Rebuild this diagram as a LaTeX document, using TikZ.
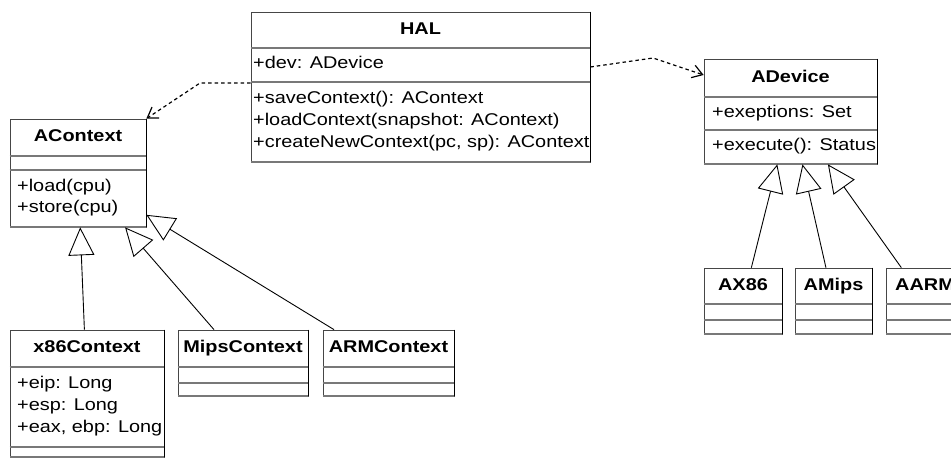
\documentclass[tikz,border=0pt]{standalone}
\usepackage{fontspec}
\setmainfont[FakeStretch=1.17]{Liberation Sans}
\usetikzlibrary{arrows.meta}
\definecolor{boxline}{RGB}{70,70,70}
\definecolor{sepgray}{RGB}{120,120,120}
\newcommand{\umlfont}{\fontsize{17}{20}\selectfont}
\tikzset{
  classbox/.style={rectangle, draw=boxline, fill=white, line width=0.7pt, inner sep=0pt},
  classname/.style={font=\umlfont\bfseries, inner sep=0pt, text height=12pt, text depth=3pt},
  member/.style={anchor=west, inner sep=0pt, text height=12pt, text depth=3pt},
  sepline/.style={draw=sepgray, line width=1.8pt},
  inherit/.style={-{Triangle[open, length=28pt, width=26pt]}, line width=0.9pt, color=black},
  depend/.style={-{Straight Barb[length=10pt, width=13pt]}, dash pattern=on 3.5pt off 3pt, line width=1.2pt, color=black}
}

\begin{document}
\begin{tikzpicture}[x=1pt, y=-1pt, font=\umlfont]
  \fill[white] (0,0) rectangle (951,459);
  \useasboundingbox (0,0) rectangle (951,459);

  % HAL
  \node[classbox, minimum width=339pt, minimum height=150pt] (hal) at (420.5,87) {};
  \node[classname] (hal-name) at (hal.north |- 0,30) {HAL};
  \node[member] (hal-dev) at (253,64) {+dev: ADevice};
  \node[member] (hal-save) at (253,99) {+saveContext(): AContext};
  \node[member] (hal-load) at (253,121) {+loadContext(snapshot: AContext)};
  \node[member] (hal-new) at (253,143) {+createNewContext(pc, sp): AContext};

  % contexts
  \node[classbox, minimum width=136pt, minimum height=108pt] (actx) at (78,173) {};
  \node[classname] (actx-name) at (actx.north |- 0,137) {AContext};
  \node[member] (actx-load) at (17,187) {+load(cpu)};
  \node[member] (actx-store) at (17,208) {+store(cpu)};

  \node[classbox, minimum width=154pt, minimum height=127pt] (x86) at (87,393.5) {};
  \node[classname] (x86-name) at (x86.north |- 0,348) {x86Context};
  \node[member] (x86-eip) at (17,384) {+eip: Long};
  \node[member] (x86-esp) at (17,406) {+esp: Long};
  \node[member] (x86-eax) at (17,428) {+eax, ebp: Long};

  \node[classbox, minimum width=130pt, minimum height=66pt] (mips) at (243,363) {};
  \node[classname] (mips-name) at (mips.north |- 0,348) {MipsContext};
  \node[classbox, minimum width=131pt, minimum height=66pt] (arm) at (388.5,363) {};
  \node[classname] (arm-name) at (arm.north |- 0,348) {ARMContext};

  % devices
  \node[classbox, minimum width=173pt, minimum height=105pt] (adev) at (790.5,111.5) {};
  \node[classname] (adev-name) at (adev.north |- 0,78) {ADevice};
  \node[member] (adev-exc) at (712,113) {+exeptions: Set};
  \node[member] (adev-run) at (712,146) {+execute(): Status};

  \node[classbox, minimum width=78pt, minimum height=66pt] (ax86) at (743,301) {};
  \node[classname] (ax86-name) at (ax86.north |- 0,286) {AX86};
  \node[classbox, minimum width=77pt, minimum height=66pt] (amips) at (833.5,301) {};
  \node[classname] (amips-name) at (amips.north |- 0,286) {AMips};
  \node[classbox, minimum width=78pt, minimum height=66pt] (aarm) at (925,301) {};
  \node[classname] (aarm-name) at (aarm.north |- 0,286) {AARM};

  % compartments
  \draw[sepline] (hal.west |- 0,48) -- (hal.east |- 0,48);
  \draw[sepline] (hal.west |- 0,82) -- (hal.east |- 0,82);
  \draw[sepline] (actx.west |- 0,156) -- (actx.east |- 0,156);
  \draw[sepline] (actx.west |- 0,170) -- (actx.east |- 0,170);
  \draw[sepline] (x86.west |- 0,367) -- (x86.east |- 0,367);
  \draw[sepline] (x86.west |- 0,447) -- (x86.east |- 0,447);
  \draw[sepline] (adev.west |- 0,97) -- (adev.east |- 0,97);
  \draw[sepline] (adev.west |- 0,130) -- (adev.east |- 0,130);
  \foreach \c in {mips,arm} {
    \draw[sepline] (\c.west |- 0,367) -- (\c.east |- 0,367);
    \draw[sepline] (\c.west |- 0,383) -- (\c.east |- 0,383);
  }
  \foreach \c in {ax86,amips,aarm} {
    \draw[sepline] (\c.west |- 0,304) -- (\c.east |- 0,304);
    \draw[sepline] (\c.west |- 0,320) -- (\c.east |- 0,320);
  }

  % heavier right and bottom edges
  \foreach \c in {hal,actx,x86,mips,arm,adev,ax86,amips,aarm} {
    \draw[black, line width=1.6pt] (\c.north east) -- (\c.south east);
    \draw[sepgray, line width=2pt] (\c.south east) -- (\c.south west);
  }

  % generalizations
  \draw[inherit] (x86) -- (actx);
  \draw[inherit] (mips) -- (actx);
  \draw[inherit] (arm) -- (actx);
  \draw[inherit] (ax86) -- (adev);
  \draw[inherit] (amips) -- (adev);
  \draw[inherit] (aarm) -- (adev);

  % dependencies
  \coordinate (bendL) at (200,83);
  \coordinate (bendR) at (653,58);
  \draw[depend] (hal.west |- 0,83) -- (bendL) -- (actx.north east);
  \draw[depend] (hal.east |- 0,67) -- (bendR) -- (adev.west |- 0,75);

\end{tikzpicture}
\end{document}
